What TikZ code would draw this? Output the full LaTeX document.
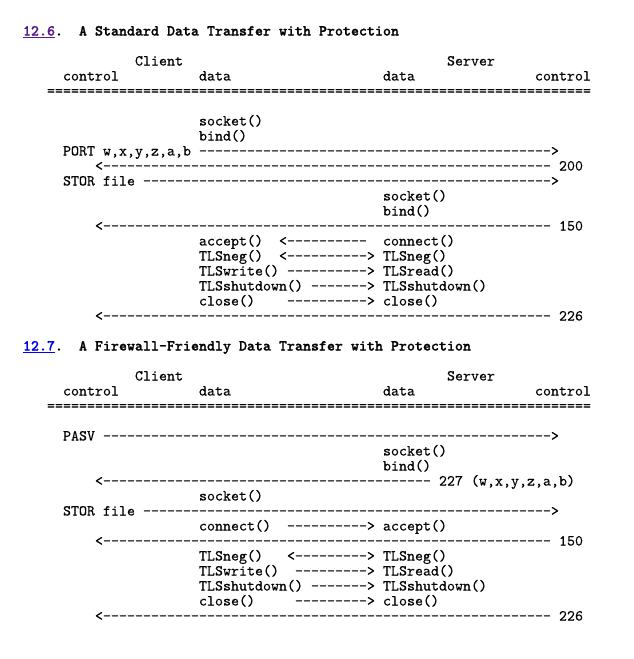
\documentclass[tikz,border=0pt]{standalone}
\usepackage{fontspec}
\setmonofont{lmmono10-regular.otf}[FakeBold=0.3,BoldFont=lmmonolt10-bold.otf,BoldFeatures={FakeBold=1.2}]
\ExplSyntaxOn
\cs_new:Npn \myrep #1#2 { \prg_replicate:nn {#1} {#2} }
\ExplSyntaxOff
\definecolor{visitedlink}{RGB}{85,26,139}
\definecolor{freshlink}{RGB}{0,0,238}
\tikzset{
  txt/.style={anchor=base west,inner sep=0pt,outer sep=0pt,
    font=\ttfamily\fontsize{15.238}{15}\selectfont,text=black},
  head/.style={txt,font=\ttfamily\bfseries\fontsize{15.238}{15}\selectfont}
}
% \Tx{column}{row}{text}: node named r<row>c<column>
\newcommand\Tx[3]{\node[txt] (r#2c#1) at ({23+8*#1},{-(35.5+15*#2)}) {#3};}
\newcommand\Hd[3]{\node[head] (r#2c#1) at ({23+8*#1},{-(35.5+15*#2)}) {#3};}
\begin{document}
\begin{tikzpicture}[x=1pt,y=1pt]
\fill[white] (0,0) rectangle (634,-659);
\useasboundingbox (0,0) rectangle (634,-659);
% ---------------- 12.6 ----------------
\Hd{0}{0}{\color{visitedlink}\underline{12.6}}
\Hd{4}{0}{.}
\Hd{7}{0}{A Standard Data Transfer with Protection}
\Tx{14}{2}{Client}
\Tx{53}{2}{Server}
\Tx{5}{3}{control}
\Tx{22}{3}{data}
\Tx{45}{3}{data}
\Tx{64}{3}{control}
\Tx{3}{4}{\myrep{68}{=}}
\Tx{22}{6}{socket()}
\Tx{22}{7}{bind()}
\Tx{5}{8}{PORT w,x,y,z,a,b}
\Tx{22}{8}{\myrep{44}{-}>}
\Tx{9}{9}{<\myrep{56}{-}}
\Tx{67}{9}{200}
\Tx{5}{10}{STOR file}
\Tx{15}{10}{\myrep{51}{-}>}
\Tx{45}{11}{socket()}
\Tx{45}{12}{bind()}
\Tx{9}{13}{<\myrep{56}{-}}
\Tx{67}{13}{150}
\Tx{22}{14}{accept()}
\Tx{32}{14}{<\myrep{10}{-}}
\Tx{45}{14}{connect()}
\Tx{22}{15}{TLSneg()}
\Tx{32}{15}{<\myrep{10}{-}>}
\Tx{45}{15}{TLSneg()}
\Tx{22}{16}{TLSwrite()}
\Tx{33}{16}{\myrep{10}{-}>}
\Tx{45}{16}{TLSread()}
\Tx{22}{17}{TLSshutdown()}
\Tx{36}{17}{\myrep{7}{-}>}
\Tx{45}{17}{TLSshutdown()}
\Tx{22}{18}{close()}
\Tx{33}{18}{\myrep{10}{-}>}
\Tx{45}{18}{close()}
\Tx{9}{19}{<\myrep{56}{-}}
\Tx{67}{19}{226}
% ---------------- 12.7 ----------------
\Hd{0}{21}{\color{freshlink}\underline{12.7}}
\Hd{4}{21}{.}
\Hd{7}{21}{A Firewall-Friendly Data Transfer with Protection}
\Tx{14}{23}{Client}
\Tx{53}{23}{Server}
\Tx{5}{24}{control}
\Tx{22}{24}{data}
\Tx{45}{24}{data}
\Tx{64}{24}{control}
\Tx{3}{25}{\myrep{68}{=}}
\Tx{5}{27}{PASV}
\Tx{10}{27}{\myrep{56}{-}>}
\Tx{45}{28}{socket()}
\Tx{45}{29}{bind()}
\Tx{9}{30}{<\myrep{41}{-}}
\Tx{52}{30}{227 (w,x,y,z,a,b)}
\Tx{22}{31}{socket()}
\Tx{5}{32}{STOR file}
\Tx{15}{32}{\myrep{51}{-}>}
\Tx{22}{33}{connect()}
\Tx{33}{33}{\myrep{10}{-}>}
\Tx{45}{33}{accept()}
\Tx{9}{34}{<\myrep{56}{-}}
\Tx{67}{34}{150}
\Tx{22}{35}{TLSneg()}
\Tx{33}{35}{<\myrep{9}{-}>}
\Tx{45}{35}{TLSneg()}
\Tx{22}{36}{TLSwrite()}
\Tx{34}{36}{\myrep{9}{-}>}
\Tx{45}{36}{TLSread()}
\Tx{22}{37}{TLSshutdown()}
\Tx{36}{37}{\myrep{7}{-}>}
\Tx{45}{37}{TLSshutdown()}
\Tx{22}{38}{close()}
\Tx{34}{38}{\myrep{9}{-}>}
\Tx{45}{38}{close()}
\Tx{9}{39}{<\myrep{56}{-}}
\Tx{67}{39}{226}
\end{tikzpicture}
\end{document}
